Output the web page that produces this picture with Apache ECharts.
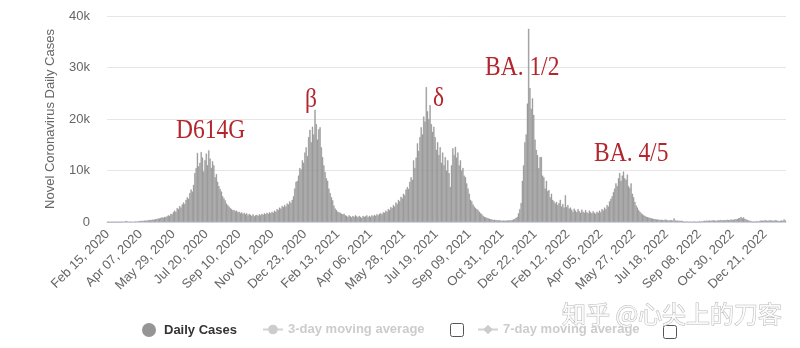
<!DOCTYPE html>
<html>
<head>
<meta charset="utf-8">
<script src="https://cdn.jsdelivr.net/npm/echarts@6/dist/echarts.min.js"></script>
<style>
html,body{margin:0;padding:0;background:#fff;}
#chart{width:800px;height:348px;}
</style>
</head>
<body>
<div id="chart"></div>
<script>
// Daily cases, one value per 2-day bucket starting Feb 15, 2020
var startDate = '2020-02-15';
var bucketDays = 2;
var cases2020a = [
  0,0,0,0,0,0,0,0,0,2,
  5,15,40,80,150,200,100,60,50,70,
  60,80,120,100,150,200,180,250,200,280,
  250,300,350,400,350,450,500,450,600,550,
  700,650,800,900,800,1000,950,1100,1300,1200,
  1600,1500,1900,2200,2000,2700,2500,3100,2800,3400,
  3800,3500,4300,4800,4500,5600,6300,5900,7200,9500,
  10500,13400,10800,11500,13600,12500,9800,12000,13300,11000,
  13900,12300,10500,11800,11000,8700,9300,7800,7000,6400,
  5900,5000,4600,4200,3600,3300,3000,2700,2500,2300
];
var cases2020b = [
  2300,2100,2200,1900,2000,1700,1900,1600,1800,1500,
  1700,1300,1600,1400,1200,1500,1100,1300,1400,1200,
  1500,1300,1600,1400,1700,1500,1800,1600,1900,1700,
  2000,1800,2200,2000,2500,2300,2800,2600,3100,2900,
  3300,3000,3600,3400,4000,3700,4300,5000,6500,7800,
  8000,9000,10500,10200,12000,11500,13500,14500,12800,16500,
  17900,15500,18500,17000,21800,19000,16000,18000,18400,14500,
  12600,11000,9700,8500,8000,6500,5600,4800,4200,3200,
  2600,2300,2000,1900,1800,1600,1500,1600,1300,1200,
  1000,1300,1100,900,1200,1000,1300,1100,900,1200
];
var cases2021a = [
  1000,800,1200,1000,1100,1300,900,1200,1000,1300,
  1100,1400,1200,1500,1300,1600,1700,1500,1900,1800,
  2200,2000,2500,2300,2900,2700,3300,3000,3800,3500,
  4300,4000,4900,4600,5500,5200,6300,6800,6400,7800,
  8700,8200,12000,10500,12500,15300,13800,16500,18400,17000,
  20500,19500,26200,21500,20000,22700,19000,17500,18500,16500,
  14000,15500,13000,14500,11500,13500,11000,12600,10000,12000,
  9500,6800,11000,14300,13000,14600,12500,13500,11000,12000,
  10000,10500,9000,8700,7500,6500,5500,4300,4000,3400,
  3000,2700,2500,2300,2000,1700,1500,1200,1000,900
];
var cases2021b = [
  800,700,600,550,500,400,450,350,400,300,
  350,300,250,300,250,300,280,320,300,350,
  400,500,600,800,1000,1700,2500,3700,8000,11000,
  15500,17000,23000,37500,26000,22000,24000,20800,16000,14000,
  13000,10500,12600,12600,9000,8700,6500,8000,6000,6200,
  4800,5500,4300,4000,3600,3900,3300,3700,4300,3000,
  3500,2800,5200,2900,3300,2600,2800,2400,2000,2600,
  2200,1900,2500,2100,1800,2400,2000,1800,2300,1900,
  1700,2200,1900,1700,2100,1800,1600,2000,1800,2200,
  1900,2500,2200,2800,2500,3300,3000,4000,4500,5000
];
var cases2022 = [
  5800,6500,7500,7000,8500,9500,8000,9000,9800,8500,
  8200,9200,7000,6600,7500,5500,4800,3900,3200,2800,
  2300,2000,1700,1500,1300,1200,1000,950,850,800,
  700,650,600,550,500,500,450,400,450,400,
  350,500,400,350,300,400,350,300,700,300,
  250,300,250,200,250,200,0,0,150,0,
  0,100,0,0,150,0,0,0,200,0,
  150,200,250,200,300,250,300,250,300,350,
  300,250,300,350,300,400,350,300,400,350,
  450,400,350,500,450,400,550,500,600,700,
  800,1000,700,900,600,500,400,300,250,200,
  0,150,0,200,0,150,250,300,250,300,
  350,300,250,300,350,300,250,300,350,300,
  250,200,250,300,250,500,300
];
var yTicks = [0, 10000, 20000, 30000, 40000];
var variantLabels = ['D614G', 'β', 'δ', 'BA. 1/2', 'BA. 4/5'];
var seriesNames = ['Daily Cases', '3-day moving average', '7-day moving average'];

var dailyCases = [].concat(cases2020a, cases2020b, cases2021a, cases2021b, cases2022);
var MONTHS = ['Jan','Feb','Mar','Apr','May','Jun','Jul','Aug','Sep','Oct','Nov','Dec'];
var categories = [];
var t0 = Date.parse(startDate + 'T00:00:00Z');
for (var i = 0; i < dailyCases.length; i++) {
  var d = new Date(t0 + i * bucketDays * 86400000);
  var dd = d.getUTCDate();
  categories.push(MONTHS[d.getUTCMonth()] + ' ' + (dd < 10 ? '0' + dd : dd) + ', ' + d.getUTCFullYear());
}

var chart = echarts.init(document.getElementById('chart'), null, {renderer: 'canvas'});
var sans = 'Liberation Sans, Arial, sans-serif';
var red = '#b3262e';
function note(text, x, y) {
  return {
    type: 'text', x: x, y: y, scaleX: 0.87, z: 50,
    style: {text: text, fill: red, font: '27px "Liberation Serif", "Times New Roman", serif', verticalAlign: 'middle', align: 'left'}
  };
}
chart.setOption({
  animation: false,
  backgroundColor: '#ffffff',
  grid: {left: 107, right: 14, top: 16, bottom: 126, containLabel: false, outerBoundsMode: 'none'},
  xAxis: {
    type: 'category',
    data: categories,
    boundaryGap: true,
    axisLine: {show: true, lineStyle: {color: '#d3d8e6', width: 1}},
    axisTick: {show: false},
    splitLine: {show: false},
    axisLabel: {interval: 25, rotate: 45, margin: 10, color: '#666', fontSize: 13, fontFamily: sans}
  },
  yAxis: {
    type: 'value',
    min: yTicks[0], max: yTicks[yTicks.length - 1], interval: 10000,
    name: 'Novel Coronavirus Daily Cases',
    nameLocation: 'middle', nameGap: 50,
    nameTextStyle: {color: '#666', fontSize: 13, fontFamily: sans},
    axisLine: {show: false},
    axisTick: {show: false},
    splitLine: {lineStyle: {color: '#e6e6e6', width: 1}},
    axisLabel: {color: '#666', fontSize: 13, fontFamily: sans, margin: 17,
      formatter: function (v) { return v === 0 ? '0' : (v / 1000) + 'k'; }}
  },
  legend: [
    {data: [seriesNames[0]], left: 137, top: 318, itemWidth: 20, itemHeight: 12, icon: 'circle',
     textStyle: {color: '#333', fontSize: 13, fontWeight: 'bold', fontFamily: sans}},
    {data: [seriesNames[1]], left: 257, top: 318, itemWidth: 20, itemHeight: 12, inactiveColor: '#ccc',
     selected: {'3-day moving average': false},
     textStyle: {color: '#333', fontSize: 13, fontWeight: 'bold', fontFamily: sans}},
    {data: [seriesNames[2]], left: 472, top: 318, itemWidth: 20, itemHeight: 12, inactiveColor: '#ccc',
     selected: {'7-day moving average': false},
     textStyle: {color: '#333', fontSize: 13, fontWeight: 'bold', fontFamily: sans}}
  ],
  series: [
    {name: seriesNames[0], type: 'bar', data: dailyCases, barCategoryGap: '0%',
     itemStyle: {color: '#959595', borderColor: '#959595', borderWidth: 0.4}, silent: true},
    {name: seriesNames[1], type: 'line', data: [], symbol: 'circle', itemStyle: {color: '#999'}},
    {name: seriesNames[2], type: 'line', data: [], symbol: 'diamond', itemStyle: {color: '#999'}}
  ],
  graphic: [
    note(variantLabels[0], 176, 131),
    note(variantLabels[1], 305, 100),
    note(variantLabels[2], 433, 99),
    note(variantLabels[3], 485, 68),
    note(variantLabels[4], 594, 154),
    {type: 'rect', shape: {x: 450.5, y: 323.5, width: 13, height: 13, r: 2}, style: {fill: '#fff', stroke: '#555', lineWidth: 1}, z: 40},
    {type: 'rect', shape: {x: 663.5, y: 325.5, width: 13, height: 13, r: 2}, style: {fill: '#fff', stroke: '#555', lineWidth: 1}, z: 40},
    {type: 'text', x: 562, y: 314, z: 60,
     style: {text: '知乎 @心尖上的刀客', font: '24px "Noto Sans CJK SC", sans-serif', fill: 'rgba(255,255,255,0.85)', stroke: '#b8b8b8', lineWidth: 1, verticalAlign: 'middle'}}
  ]
});
</script>
</body>
</html>
